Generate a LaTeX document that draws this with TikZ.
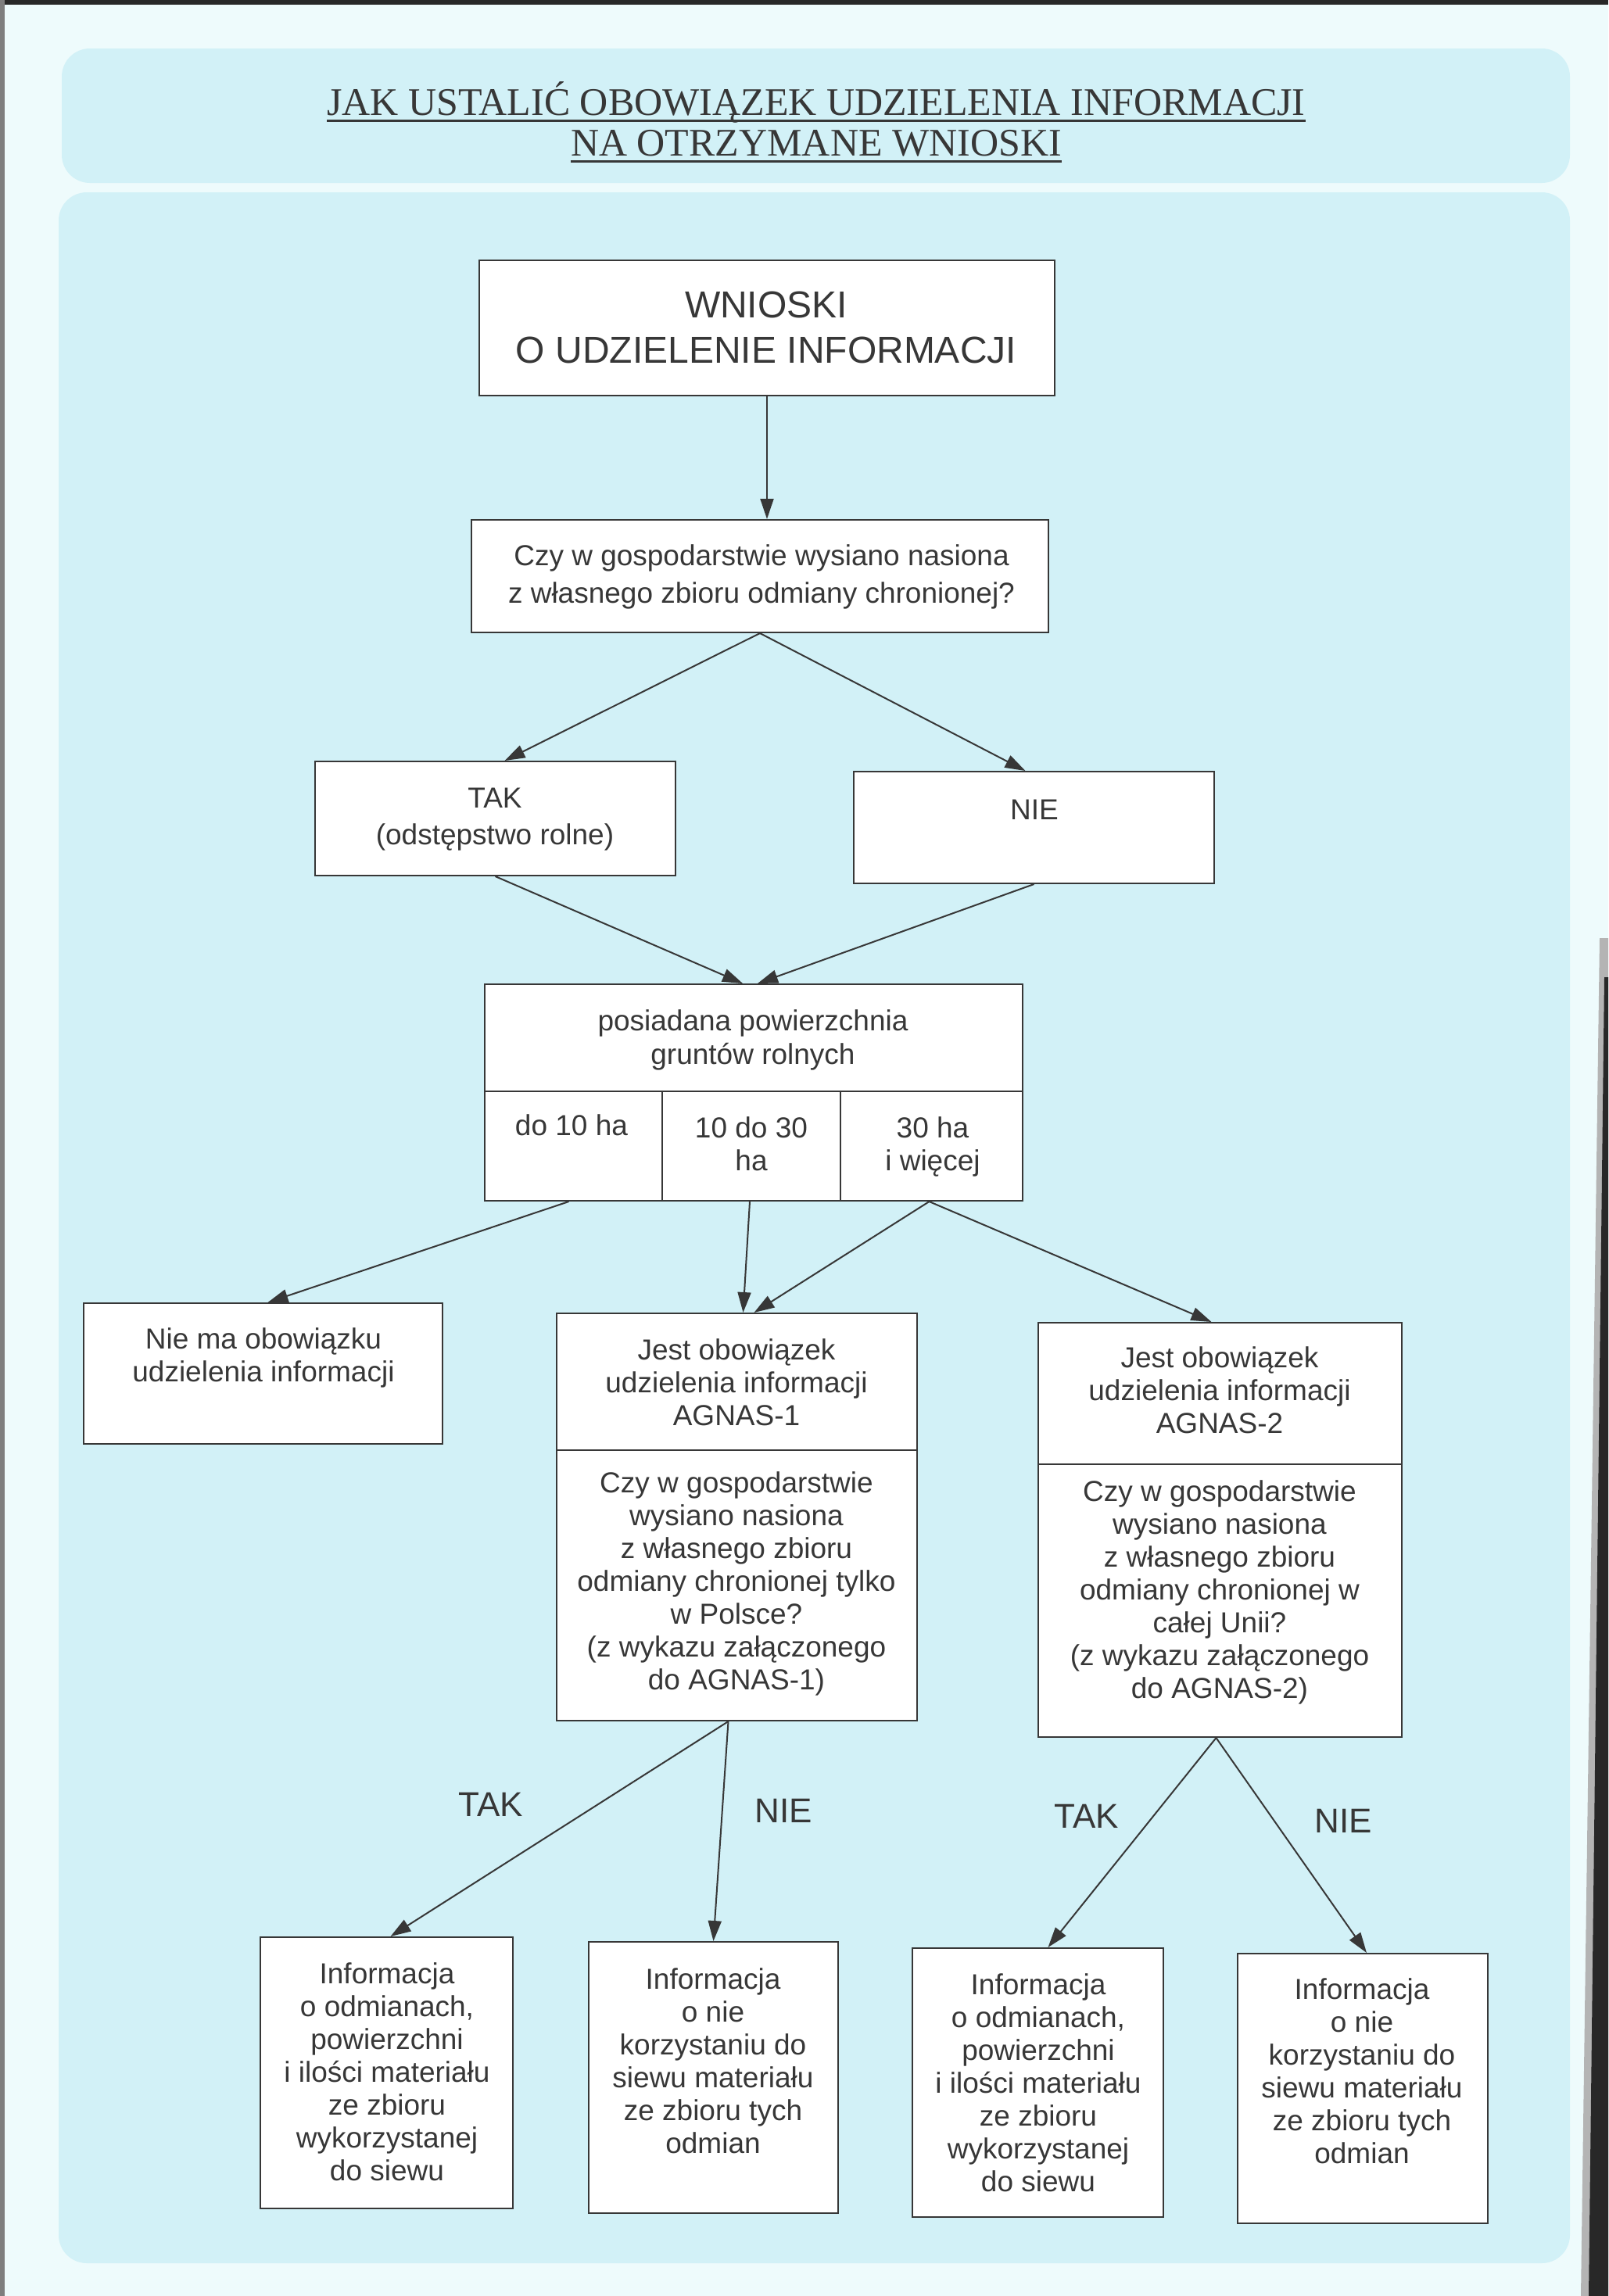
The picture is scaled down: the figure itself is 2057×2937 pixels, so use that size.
\documentclass[tikz,border=0pt]{standalone}
\usepackage{fontspec}
\setmainfont{Liberation Serif}
\newfontfamily\arialf{Liberation Sans}
\usetikzlibrary{arrows.meta}
\definecolor{pagebg}{RGB}{238,251,252}
\definecolor{panelbg}{RGB}{210,241,247}
\definecolor{ink}{RGB}{55,55,55}
\definecolor{scan}{RGB}{40,40,40}
\tikzset{
  box/.style={draw=ink, line width=2pt, fill=white, inner sep=0pt, rectangle},
  txt/.style={text=ink, align=center, inner sep=0pt, font=\arialf\fontsize{37}{42}\selectfont},
  qtxt/.style={txt, font=\arialf\fontsize{37}{48}\selectfont},
  bigtxt/.style={txt, font=\arialf\fontsize{48}{58}\selectfont},
  lbl/.style={txt, font=\arialf\fontsize{44}{50}\selectfont},
  ttl/.style={text=ink, inner sep=0pt, font=\fontsize{50}{52}\selectfont},
  uline/.style={draw=ink, line width=3pt},
  arr/.style={draw=ink, line width=2pt, -{Triangle[length=26pt,width=17pt]}},
}
\begin{document}
\begin{tikzpicture}[x=1pt,y=-1pt]
\useasboundingbox (0,0) rectangle (2057,2937);
\fill[pagebg] (0,0) rectangle (2057,2937);
% scan edges
\fill[scan] (0,0) rectangle (2057,6);
\fill[scan!60] (0,0) rectangle (6,2937);
\fill[scan!35] (2046,1200) -- (2057,1200) -- (2057,2937) -- (2022,2937) -- cycle;
\fill[scan] (2052,1250) -- (2057,1250) -- (2057,2937) -- (2032,2937) -- cycle;
% panels
\fill[panelbg, rounded corners=36pt] (79,62) rectangle (2008,234);
\fill[panelbg, rounded corners=36pt] (75,246) rectangle (2008,2895);
% title
\node[ttl, anchor=base] (t1) at (1044,147) {JAK USTALIĆ OBOWIĄZEK UDZIELENIA INFORMACJI};
\node[ttl, anchor=base] (t2) at (1044,199) {NA OTRZYMANE WNIOSKI};
\draw[uline] ([yshift=-7pt]t1.base west) -- ([yshift=-7pt]t1.base east);
\draw[uline] ([yshift=-7pt]t2.base west) -- ([yshift=-7pt]t2.base east);
% boxes
\node[box, minimum width=736pt, minimum height=173pt] (w) at (981,419.5) {};
\node[bigtxt] (wt) at (980,419) {WNIOSKI\\O UDZIELENIE INFORMACJI};

\node[box, minimum width=738pt, minimum height=144pt] (q) at (972,737) {};
\node[qtxt] (qt) at (974,738) {Czy w gospodarstwie wysiano nasiona\\z własnego zbioru odmiany chronionej?};

\node[box, minimum width=461pt, minimum height=146pt] (tak) at (633.5,1047) {};
\node[qtxt, font=\arialf\fontsize{37}{47}\selectfont] (takt) at (633,1048) {TAK\\(odstępstwo rolne)};

\node[box, minimum width=461pt, minimum height=143pt] (nie) at (1322.5,1058.5) {};
\node[qtxt] (niet) at (1323,1036) {NIE};

% posiadana
\node[box, minimum width=688pt, minimum height=137pt] (p) at (964,1327.5) {};
\node[txt, font=\arialf\fontsize{37}{43}\selectfont] (pt) at (963,1330) {posiadana powierzchnia\\gruntów rolnych};
\node[box, minimum width=227pt, minimum height=140pt] (c1) at (733.5,1466) {};
\node[box, minimum width=228pt, minimum height=140pt] (c2) at (961,1466) {};
\node[box, minimum width=233pt, minimum height=140pt] (c3) at (1191.5,1466) {};
\node[txt] (c1t) at (731,1439) {do 10 ha};
\node[txt] (c2t) at (961,1463) {10 do 30\\ha};
\node[txt] (c3t) at (1193,1467) {30 ha\\i więcej};

% second level
\node[box, minimum width=459pt, minimum height=180pt] (nm) at (336.5,1757) {};
\node[txt] (nmt) at (337,1737) {Nie ma obowiązku\\udzielenia informacji};

\node[box, minimum width=461pt, minimum height=175pt] (a1) at (942.5,1767.5) {};
\node[box, minimum width=461pt, minimum height=346pt] (a1b) at (942.5,2028) {};
\node[txt] (a1t) at (942,1768) {Jest obowiązek\\udzielenia informacji\\AGNAS-1};
\node[txt] (a1bt) at (942,2026) {Czy w gospodarstwie\\wysiano nasiona\\z własnego zbioru\\odmiany chronionej tylko\\w Polsce?\\(z wykazu załączonego\\do AGNAS-1)};

\node[box, minimum width=465pt, minimum height=181pt] (a2) at (1560.5,1782.5) {};
\node[box, minimum width=465pt, minimum height=349pt] (a2b) at (1560.5,2047.5) {};
\node[txt] (a2t) at (1560,1778) {Jest obowiązek\\udzielenia informacji\\AGNAS-2};
\node[txt] (a2bt) at (1560,2037) {Czy w gospodarstwie\\wysiano nasiona\\z własnego zbioru\\odmiany chronionej w\\całej Unii?\\(z wykazu załączonego\\do AGNAS-2)};

% labels
\node[lbl] (l1) at (628,2308) {TAK};
\node[lbl] (l2) at (1002,2316) {NIE};
\node[lbl] (l3) at (1390,2323) {TAK};
\node[lbl] (l4) at (1718,2329) {NIE};

% bottom boxes
\node[box, minimum width=323pt, minimum height=347pt] (b1) at (494.5,2651.5) {};
\node[txt] (b1t) at (495,2650) {Informacja\\o odmianach,\\powierzchni\\i ilości materiału\\ze zbioru\\wykorzystanej\\do siewu};
\node[box, minimum width=319pt, minimum height=347pt] (b2) at (912.5,2657.5) {};
\node[txt] (b2t) at (912,2636) {Informacja\\o nie\\korzystaniu do\\siewu materiału\\ze zbioru tych\\odmian};
\node[box, minimum width=321pt, minimum height=344pt] (b3) at (1327.5,2664) {};
\node[txt] (b3t) at (1328,2664) {Informacja\\o odmianach,\\powierzchni\\i ilości materiału\\ze zbioru\\wykorzystanej\\do siewu};
\node[box, minimum width=320pt, minimum height=345pt] (b4) at (1743,2671.5) {};
\node[txt] (b4t) at (1742,2649) {Informacja\\o nie\\korzystaniu do\\siewu materiału\\ze zbioru tych\\odmian};

% connectors
\draw[arr] (w.south) -- (q.north -| w.south);
\draw[arr] (q.south) -- ([xshift=12pt]tak.north);
\draw[arr] (q.south) -- ([xshift=-11pt]nie.north);
\draw[arr] (tak.south) -- ([xshift=-14pt]p.north);
\draw[arr] (nie.south) -- ([xshift=5pt]p.north);
\draw[arr] ([xshift=-6pt]c1.south) -- ([xshift=6pt]nm.north);
\draw[arr] ([xshift=-2pt]c2.south) -- ([xshift=8pt]a1.north);
\draw[arr] ([xshift=-3pt]c3.south) -- ([xshift=22pt]a1.north);
\draw[arr] ([xshift=-3pt]c3.south) -- ([xshift=-11pt]a2.north);
\draw[arr] ([xshift=-11pt]a1b.south) -- ([xshift=5pt]b1.north);
\draw[arr] ([xshift=-11pt]a1b.south) -- (b2.north);
\draw[arr] ([xshift=-5pt]a2b.south) -- ([xshift=13pt]b3.north);
\draw[arr] ([xshift=-5pt]a2b.south) -- ([xshift=5pt]b4.north);
\end{tikzpicture}
\end{document}
